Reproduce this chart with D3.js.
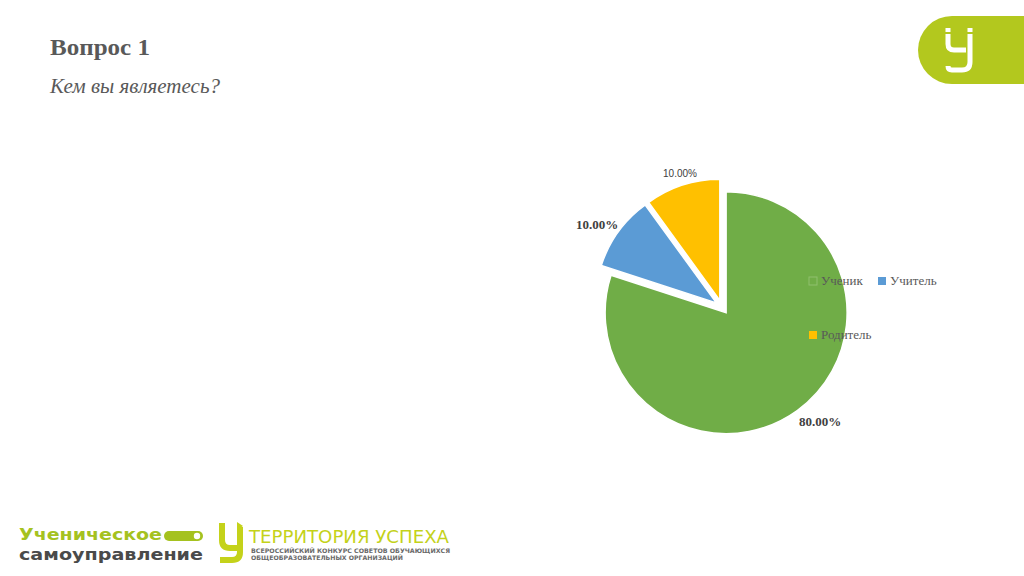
<!DOCTYPE html>
<html><head><meta charset="utf-8">
<script src="https://cdn.jsdelivr.net/npm/d3@7"></script>
<style>body{margin:0;background:#fff}svg{display:block}</style>
</head><body>
<svg id="c" width="1024" height="576"></svg>
<script>
const categories = ["Ученик", "Учитель", "Родитель"];
const values = [80, 10, 10];
const labels = ["80.00%", "10.00%", "10.00%"];
const colors = ["#70ad47", "#5b9bd5", "#ffc000"];

const svg = d3.select("#c");
const gray = "#595959";

// Title
svg.append("text").attr("x", 50).attr("y", 55).attr("font-family", "Liberation Serif")
  .attr("font-weight", "bold").attr("font-size", 24).attr("fill", gray)
  .attr("textLength", 100).attr("lengthAdjust", "spacingAndGlyphs").text("Вопрос 1");
svg.append("text").attr("x", 50).attr("y", 93).attr("font-family", "Liberation Serif")
  .attr("font-style", "italic").attr("font-size", 21).attr("fill", gray)
  .attr("textLength", 170).attr("lengthAdjust", "spacingAndGlyphs").text("Кем вы являетесь?");

// Top-right logo
const lg = "#b3c81e";
svg.append("path").attr("d", "M1024,16 L952,16 A34,34 0 0 0 952,84 L1024,84 Z").attr("fill", lg);
const U = svg.append("g").attr("fill", "none").attr("stroke", "#fff").attr("stroke-width", 5).attr("stroke-linecap", "butt");
U.append("path").attr("d", "M948,28 L948,44 Q948,50 954,50 L966,50");
U.append("path").attr("d", "M970,28 L970,62 Q970,70 962,70 L952,70 Q948,70 948,66");
U.append("path").attr("d", "M945,33 L951,33 M967,33 L973,33").attr("stroke", lg).attr("stroke-width", 2);

// Pie
const cx = 722, cy = 307, r = 121, explode = 7;
const pie = d3.pie().sort(null).value(d => d)(values);
const arc = d3.arc().innerRadius(0).outerRadius(r);
const g = svg.append("g").attr("transform", `translate(${cx},${cy})`);
g.selectAll("path").data(pie).join("path")
  .attr("d", arc)
  .attr("fill", (d, i) => colors[i])
  .attr("stroke", "#fff").attr("stroke-width", 1.5)
  .attr("transform", d => {
    const a = (d.startAngle + d.endAngle) / 2;
    return `translate(${Math.sin(a) * explode},${-Math.cos(a) * explode})`;
  });

// Data labels
const labelPos = [[820, 426], [597, 229], [680, 177]];
const labelStyle = [
  {ff: "Liberation Serif", fw: "bold", fs: 13},
  {ff: "Liberation Serif", fw: "bold", fs: 13},
  {ff: "Liberation Sans", fw: "normal", fs: 10}
];
pie.forEach((d, i) => {
  svg.append("text").attr("x", labelPos[i][0]).attr("y", labelPos[i][1])
    .attr("text-anchor", "middle").attr("font-family", labelStyle[i].ff)
    .attr("font-weight", labelStyle[i].fw).attr("font-size", labelStyle[i].fs)
    .attr("fill", "#404040").text(labels[i]);
});

// Legend
const legPos = [[809, 285], [878, 285], [809, 339]];
categories.forEach((c, i) => {
  const [x, y] = legPos[i];
  svg.append("rect").attr("x", x).attr("y", y - 8).attr("width", 8).attr("height", 8)
    .attr("fill", colors[i]).attr("stroke", i === 0 ? "#8fc06e" : "none");
  svg.append("text").attr("x", x + 12).attr("y", y).attr("font-family", "Liberation Serif")
    .attr("font-size", 13).attr("fill", gray).text(c);
});

// Bottom logos
const bg = "#a5c21f";
svg.append("text").attr("x", 19).attr("y", 540).attr("font-family", "DejaVu Sans")
  .attr("font-weight", "bold").attr("font-size", 16.5).attr("fill", bg)
  .attr("textLength", 143).attr("lengthAdjust", "spacingAndGlyphs").text("Ученическое");
svg.append("text").attr("x", 19).attr("y", 560).attr("font-family", "DejaVu Sans")
  .attr("font-weight", "bold").attr("font-size", 16.5).attr("fill", "#4a4a4a")
  .attr("textLength", 184).attr("lengthAdjust", "spacingAndGlyphs").text("самоуправление");
svg.append("rect").attr("x", 164).attr("y", 531).attr("width", 39).attr("height", 10).attr("rx", 5).attr("fill", bg);
svg.append("circle").attr("cx", 197).attr("cy", 536).attr("r", 3.2).attr("fill", "#fff");

const ty = "#c4d21a";
svg.append("path").attr("d", "M222,523 L222,540 Q222,548 230,548 L238,548")
  .attr("fill", "none").attr("stroke", ty).attr("stroke-width", 6);
svg.append("path").attr("d", "M240,527 L240,552 Q240,560 232,560 L220,560")
  .attr("fill", "none").attr("stroke", ty).attr("stroke-width", 6);
svg.append("path").attr("d", "M237,522 L243,526 L237,530 Z").attr("fill", ty);
svg.append("text").attr("x", 249).attr("y", 543).attr("font-family", "DejaVu Sans")
  .attr("font-size", 18).attr("fill", ty)
  .attr("textLength", 200).attr("lengthAdjust", "spacingAndGlyphs").text("ТЕРРИТОРИЯ УСПЕХА");
svg.append("text").attr("x", 251).attr("y", 553).attr("font-family", "DejaVu Sans")
  .attr("font-weight", "bold").attr("font-size", 6.2).attr("fill", "#6a6a6a")
  .attr("textLength", 199).attr("lengthAdjust", "spacingAndGlyphs").text("ВСЕРОССИЙСКИЙ КОНКУРС СОВЕТОВ ОБУЧАЮЩИХСЯ");
svg.append("text").attr("x", 251).attr("y", 560).attr("font-family", "DejaVu Sans")
  .attr("font-weight", "bold").attr("font-size", 6.2).attr("fill", "#6a6a6a")
  .attr("textLength", 152).attr("lengthAdjust", "spacingAndGlyphs").text("ОБЩЕОБРАЗОВАТЕЛЬНЫХ ОРГАНИЗАЦИЙ");
</script>
</body></html>
